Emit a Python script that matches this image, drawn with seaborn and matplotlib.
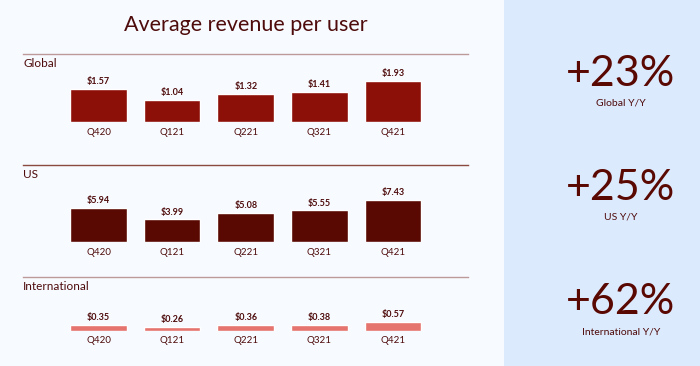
import matplotlib
matplotlib.use("Agg")
import matplotlib.pyplot as plt
import seaborn as sns
import pandas as pd
from matplotlib.patches import Rectangle

# datos
trimestres = ["Q420", "Q121", "Q221", "Q321", "Q421"]
arpu_global = [1.57, 1.04, 1.32, 1.41, 1.93]
arpu_us = [5.94, 3.99, 5.08, 5.55, 7.43]
arpu_intl = [0.35, 0.26, 0.36, 0.38, 0.57]
paneles = ["Global", "US", "International"]
yoy = ["+23%", "+25%", "+62%"]
yoy_labels = ["Global Y/Y", "US Y/Y", "International Y/Y"]

sns.set_style("white")
plt.rcParams["font.family"] = ["Lato", "DejaVu Sans"]

W, H = 700, 366
fig = plt.figure(figsize=(7, 3.66), dpi=100)
fig.patch.set_facecolor("#F7FAFF")

# panel derecho azul
fig.patches.append(Rectangle((504 / W, 0), 196 / W, 1, transform=fig.transFigure,
                             facecolor="#DCEAFD", edgecolor="none", zorder=0))

titulo_color = "#4E0B0B"
fig.text(246 / W, 1 - 25 / H, "Average revenue per user", ha="center", va="center",
         fontsize=15.5, color=titulo_color)

# (top px, bottom px, ylim, color barra, color linea)
layout = [
    (54, 122, 3.22, "#8C1007", "#BC9A9A"),
    (165, 242, 13.53, "#5A0802", "#8A4A40"),
    (277, 330.7, 3.46, "#E5736E", "#BC9A9A"),
]
datos = [arpu_global, arpu_us, arpu_intl]

for i, (top, bot, ylim, col, lcol) in enumerate(layout):
    ax = fig.add_axes([23 / W, 1 - bot / H, 445 / W, (bot - top) / H])
    ax.set_facecolor("none")
    df = pd.DataFrame({"q": trimestres, "v": datos[i]})
    sns.barplot(data=df, x="q", y="v", color=col, saturation=1, width=0.77, ax=ax)
    ax.set_xlim(-1.026, 5.02)
    ax.set_ylim(0, ylim)
    ax.set_xlabel("")
    ax.set_ylabel("")
    ax.set_yticks([])
    ax.tick_params(axis="x", length=0, pad=4, labelsize=7, labelcolor=titulo_color)
    for s in ["left", "right", "bottom"]:
        ax.spines[s].set_visible(False)
    ax.spines["top"].set_color(lcol)
    ax.spines["top"].set_linewidth(1)
    for j, v in enumerate(datos[i]):
        ax.annotate(f"${v:.2f}", (j, v), xytext=(0, 2), textcoords="offset points",
                    ha="center", va="bottom", fontsize=6.5, fontweight="bold",
                    color=titulo_color)
    # nombre del panel un poco por debajo de la linea
    ax.text(0, 1 - 4 / (bot - top), paneles[i], transform=ax.transAxes, ha="left",
            va="top", fontsize=8.5, color=titulo_color)

big_y = [74, 188, 301.5]
sub_y = [103, 217, 332]
for k in range(3):
    fig.text(621 / W, 1 - big_y[k] / H, yoy[k], ha="center", va="center",
             fontsize=31, fontweight="normal", color="#5A0802")
    fig.text(621 / W, 1 - sub_y[k] / H, yoy_labels[k], ha="center", va="center",
             fontsize=7.5, color=titulo_color)

fig.savefig("out.png", dpi=100, facecolor=fig.get_facecolor())
